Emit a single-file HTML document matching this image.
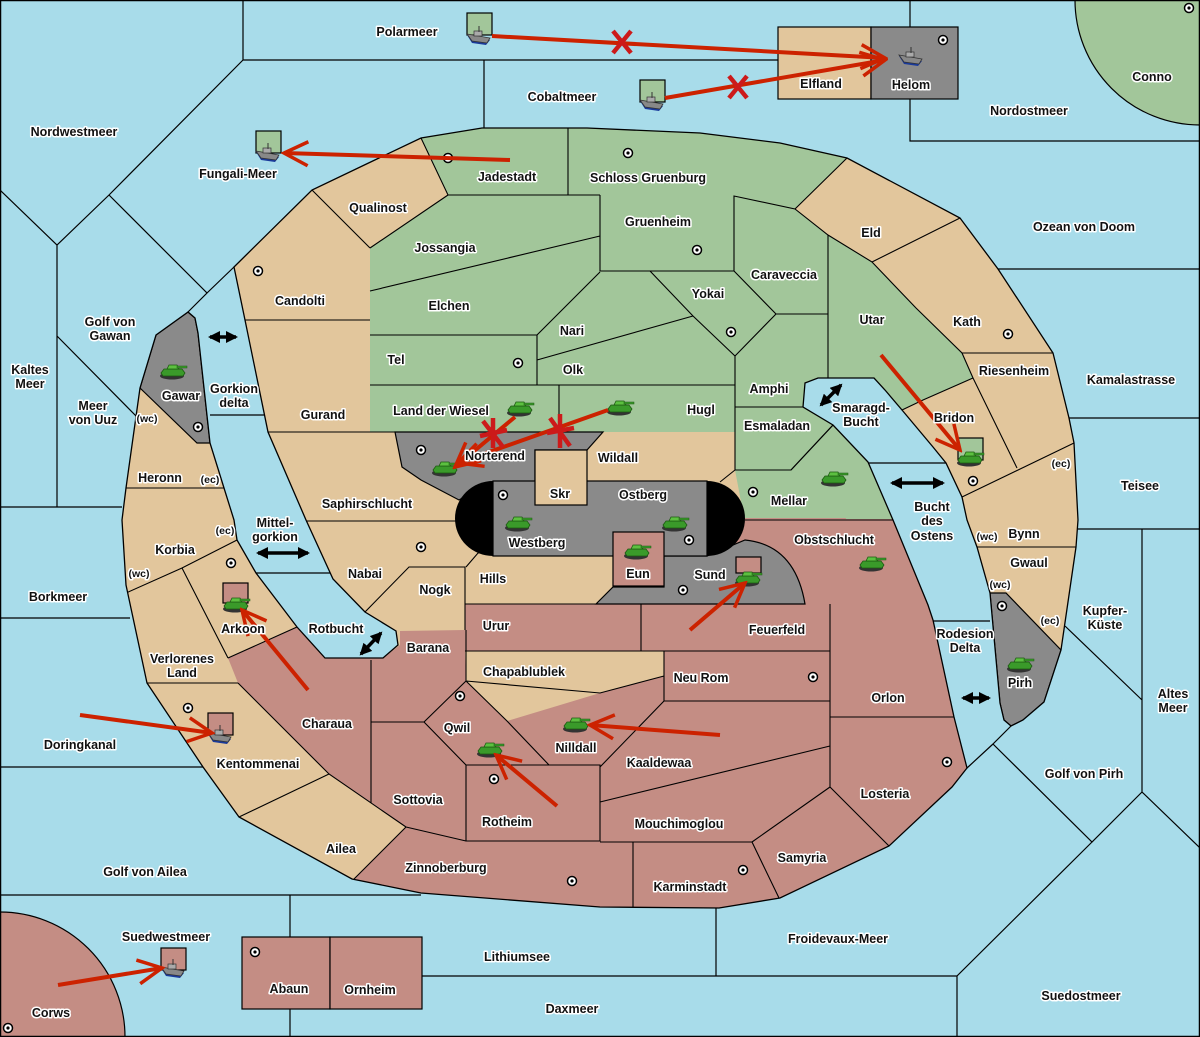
<!DOCTYPE html>
<html><head><meta charset="utf-8"><style>
html,body{margin:0;padding:0;background:#a8dcea;width:1200px;height:1037px;overflow:hidden;position:relative}
svg{display:block;position:absolute;left:0;top:0}
text{font-family:"Liberation Sans",sans-serif;font-weight:bold;font-size:12.5px;fill:#111;stroke:#fff;stroke-width:3px;paint-order:stroke;stroke-linejoin:round;text-anchor:middle;dominant-baseline:central}
text.s{font-size:10.5px}
</style></head><body>
<svg width="1200" height="1037" viewBox="0 0 1200 1037" xmlns="http://www.w3.org/2000/svg" overflow="hidden">
<defs>
<clipPath id="land"><polygon id="lp" points="188,312 156,335 140,388 126,488 122,520 126,585 147,683 203,767 239,817 352,879 421,893 600,907 719,908 780,898 889,846 952,787 967,768 954,717 933,620 928,605 893,520 868,462 833,425 803,407 805,383 818,378 874,378 885,390 902,410 933,447 946,463 962,497 967,520 977,547 990,593 1000,703 1004,720 1011,726 1023,720 1044,702 1061,650 1076,547 1078,520 1074,443 1069,418 1053,353 998,269 960,218 847,158 780,143 700,133 587,128 482,128 421,138 379,158 312,190 234,267 245,320 268,432 306,520 333,579 365,612 396,631 398,645 383,658 325,658 297,627 256,573 237,540 234,520 224,488 210,443 198,333 195,318"/></clipPath>
<symbol id="tk" viewBox="0 0 30 18">
<ellipse cx="14" cy="14" rx="12" ry="3.5" fill="#333"/>
<path d="M3,11 L6,7 L24,7 L27,11 L25,14 L5,14 Z" fill="#3a9a2a" stroke="#1d5a12" stroke-width="0.8"/>
<path d="M9,7 L11,3 L19,3 L21,7 Z" fill="#5cc040" stroke="#1d5a12" stroke-width="0.8"/>
<rect x="19" y="4" width="10" height="2" fill="#3a9a2a" stroke="#1d5a12" stroke-width="0.5"/>
</symbol>
<symbol id="sh" viewBox="0 0 26 20">
<path d="M1,9 L24,14 L20,19 L6,17 Z" fill="#1a3a9a"/>
<path d="M1,8 L24,12 L21,17 L6,15 Z" fill="#888" stroke="#333" stroke-width="0.8"/>
<rect x="8" y="5" width="8" height="5" fill="#aaa" stroke="#333" stroke-width="0.7"/>
<line x1="13" y1="0" x2="13" y2="6" stroke="#333" stroke-width="1"/>
</symbol>
<marker id="ah" markerUnits="userSpaceOnUse" markerWidth="30" markerHeight="30" viewBox="0 0 30 30" refX="27" refY="15" orient="auto"><path d="M3,3 L27,15 L3,27" fill="none" stroke="#cc2200" stroke-width="3.5"/></marker>
<marker id="bh" markerUnits="userSpaceOnUse" markerWidth="12" markerHeight="12" viewBox="0 0 12 12" refX="10" refY="6" orient="auto-start-reverse"><path d="M0,0 L12,6 L0,12 Z" fill="#000"/></marker>
</defs>
<rect width="1200" height="1037" fill="#a8dcea"/>
<g fill="none" stroke="#000" stroke-width="1.2">
<path d="M243,0 V60 H778 M243,60 L109,195 L57,245 L0,190 M109,195 L207,293 L188,312 M207,293 L234,267 M57,245 V507 M57,336 L140,420 M0,507 H122 M210,415 H266 M484,60 V128 M910,0 V27 M910,99 V141 H1200 M998,269 H1200 M1069,418 H1200 M1078,529 H1200 M1142,529 V792 L1200,848 M1142,792 L1092,842 L993,744 L1011,726 M993,744 L967,768 M1065,626 L1142,700 M1092,842 L957,976 V1037 M421,976 H957 M716,908 V976 M0,618 H130 M0,767 H203 M0,895 H421 M290,895 V1037 M933,621 H990 M866,463 H946 M256,573 H331"/>
</g>
<circle cx="1200" cy="0" r="125" fill="#a2c69a" stroke="#000" stroke-width="1.2"/>
<circle cx="0" cy="1037" r="125" fill="#c48d84" stroke="#000" stroke-width="1.2"/>
<rect x="778" y="27" width="93" height="72" fill="#e2c69c" stroke="#000" stroke-width="1.2"/>
<rect x="871" y="27" width="87" height="72" fill="#8a8a8a" stroke="#000" stroke-width="1.2"/>
<rect x="242" y="937" width="88" height="72" fill="#c48d84" stroke="#000" stroke-width="1.2"/>
<rect x="330" y="937" width="92" height="72" fill="#c48d84" stroke="#000" stroke-width="1.2"/>
<use href="#lp" fill="#e2c69c"/>
<g clip-path="url(#land)">
<polygon fill="#a2c69a" points="420,110 850,110 847,158 795,209 828,235 872,262 916,308 962,353 973,378 923,400 902,410 870,400 832,424 870,460 898,522 745,522 735,470 735,432 370,432 370,248 448,195 421,138"/>
<polygon fill="#a2c69a" points="735,468 791,468 833,423 870,460 898,524 745,524"/>
<polygon fill="#e2c69c" points="603,432 735,432 735,470 720,482 587,482 587,450"/>
<polygon fill="#c48d84" points="720,518 905,518 1000,800 900,920 340,920 354,879 406,827 329,774 238,683 228,658 297,627 325,658 383,658 400,645 400,631 465,630 465,604 720,604"/>
<polygon fill="#e2c69c" points="465,651 664,651 664,676 600,693 507,721 466,681"/>
<polygon fill="#8a8a8a" stroke="#000" stroke-width="1.2" points="395,432 603,432 587,450 535,450 535,482 490,482 459,500 421,480 402,467"/>
<path d="M596,604 L613,587 L664,587 L664,556 L707,556 L745,540 Q795,545 805,604 Z" fill="#8a8a8a" stroke="#000" stroke-width="1.2"/>
<path d="M493,481 H707 A38,37.5 0 0 1 707,556 H493 A38,37.5 0 0 1 493,481 Z" fill="#000"/>
<rect x="493" y="481" width="214" height="75" fill="#8a8a8a" stroke="#000" stroke-width="1.2"/>
<rect x="535" y="450" width="52" height="55" fill="#e2c69c" stroke="#000" stroke-width="1.2"/>
<rect x="613" y="532" width="51" height="54" fill="#c48d84" stroke="#000" stroke-width="1.2"/>
<polygon fill="#8a8a8a" stroke="#000" stroke-width="1.2" points="188,312 195,318 198,333 210,443 197,443 140,388 156,335"/>
<polygon fill="#8a8a8a" stroke="#000" stroke-width="1.2" points="990,593 1006,593 1061,650 1044,702 1023,720 1011,726 1004,720 1000,703"/>
<g fill="none" stroke="#000" stroke-width="1.1">
<path d="M421,138 L448,195 H600 M568,128 V195 M600,195 V271 H734 V196 L795,209 L828,235 L872,262 L960,218 M795,209 L847,158 M370,248 L448,195 M370,291 L600,236 M370,335 H537 V385 M537,335 L600,272 M537,360 L693,316 M650,271 L693,316 L735,356 L776,314 L734,271 M776,314 H828 M828,235 V378 M370,385 H735 M559,385 V432 M735,356 V470 M735,407 H803 M735,470 H791 L833,425 M735,470 L720,482 M872,262 L916,308 L962,353 L973,378 L923,400 L902,410 M962,353 H1053 M973,378 L1017,468 M962,497 L1074,443 M977,547 H1076 M990,593 H1006 M745,520 H895"/>
<path d="M312,190 L370,248 M245,320 H370 M268,432 H395 M306,521 H456 M365,612 L409,567 H465 V630 M466,567 L478,553 L490,553 M465,604 H805 M465,651 H830 M641,604 V651 M664,651 V701 H830 M830,604 V787 M830,717 H954 M830,787 L889,846 M752,842 L830,787 M752,842 L779,898 M600,842 H752 M633,842 V908 M600,802 L830,746 M664,701 L600,767 M466,765 H600 V841 H466 Z M424,722 L466,681 L507,721 L549,765 M424,722 L466,765 M371,660 V803 M371,722 H424 M406,827 L466,841 M406,827 L354,879 M329,774 L239,817 M238,683 L147,683 M126,593 L182,568 L239,539 M182,568 L228,658 M228,658 L297,627 M126,488 H224 M238,683 L329,774 L406,827 M466,681 L600,693 L664,676 M466,630 V681"/>
</g>
</g>
<polygon fill="#a2c69a" points="834,426 867,462 892,519 846,519 836,480"/>
<use href="#lp" fill="none" stroke="#000" stroke-width="1.3"/>
<line x1="791" y1="470" x2="833" y2="425" stroke="#000" stroke-width="1.1"/>
<line x1="745" y1="520" x2="893" y2="520" stroke="#000" stroke-width="1.1"/>
<g stroke="#000" stroke-width="1.2">
<rect x="467" y="13" width="25" height="22" fill="#a2c69a"/>
<rect x="640" y="80" width="25" height="22" fill="#a2c69a"/>
<rect x="256" y="131" width="25" height="22" fill="#a2c69a"/>
<rect x="958" y="438" width="25" height="22" fill="#a2c69a"/>
<rect x="223" y="583" width="25" height="20" fill="#c48d84"/>
<rect x="736" y="557" width="25" height="16" fill="#c48d84"/>
<rect x="208" y="713" width="25" height="22" fill="#c48d84"/>
<rect x="161" y="948" width="25" height="22" fill="#c48d84"/>
</g>
<g fill="#fff" stroke="#000" stroke-width="1.5">
<circle cx="448" cy="158" r="4.5"/><circle cx="628" cy="153" r="4.5"/><circle cx="697" cy="250" r="4.5"/><circle cx="731" cy="332" r="4.5"/><circle cx="518" cy="363" r="4.5"/><circle cx="258" cy="271" r="4.5"/><circle cx="198" cy="427" r="4.5"/><circle cx="231" cy="563" r="4.5"/><circle cx="421" cy="450" r="4.5"/><circle cx="503" cy="495" r="4.5"/><circle cx="753" cy="492" r="4.5"/><circle cx="689" cy="540" r="4.5"/><circle cx="973" cy="481" r="4.5"/><circle cx="1008" cy="334" r="4.5"/><circle cx="1002" cy="606" r="4.5"/><circle cx="947" cy="762" r="4.5"/><circle cx="813" cy="677" r="4.5"/><circle cx="683" cy="590" r="4.5"/><circle cx="460" cy="696" r="4.5"/><circle cx="494" cy="779" r="4.5"/><circle cx="572" cy="881" r="4.5"/><circle cx="743" cy="870" r="4.5"/><circle cx="188" cy="708" r="4.5"/><circle cx="255" cy="952" r="4.5"/><circle cx="8" cy="1028" r="4.5"/><circle cx="943" cy="40" r="4.5"/><circle cx="421" cy="547" r="4.5"/><circle cx="1189" cy="8" r="4.5"/>
</g>
<g fill="#000">
<circle cx="448" cy="158" r="1.6"/><circle cx="628" cy="153" r="1.6"/><circle cx="697" cy="250" r="1.6"/><circle cx="731" cy="332" r="1.6"/><circle cx="518" cy="363" r="1.6"/><circle cx="258" cy="271" r="1.6"/><circle cx="198" cy="427" r="1.6"/><circle cx="231" cy="563" r="1.6"/><circle cx="421" cy="450" r="1.6"/><circle cx="503" cy="495" r="1.6"/><circle cx="753" cy="492" r="1.6"/><circle cx="689" cy="540" r="1.6"/><circle cx="973" cy="481" r="1.6"/><circle cx="1008" cy="334" r="1.6"/><circle cx="1002" cy="606" r="1.6"/><circle cx="947" cy="762" r="1.6"/><circle cx="813" cy="677" r="1.6"/><circle cx="683" cy="590" r="1.6"/><circle cx="460" cy="696" r="1.6"/><circle cx="494" cy="779" r="1.6"/><circle cx="572" cy="881" r="1.6"/><circle cx="743" cy="870" r="1.6"/><circle cx="188" cy="708" r="1.6"/><circle cx="255" cy="952" r="1.6"/><circle cx="8" cy="1028" r="1.6"/><circle cx="943" cy="40" r="1.6"/><circle cx="421" cy="547" r="1.6"/><circle cx="1189" cy="8" r="1.6"/>
</g>
<g stroke="#000" stroke-width="3.5" marker-start="url(#bh)" marker-end="url(#bh)">
<line x1="210" y1="337" x2="236" y2="337"/><line x1="258" y1="553" x2="308" y2="553"/><line x1="892" y1="483" x2="943" y2="483"/><line x1="963" y1="698" x2="989" y2="698"/><line x1="361" y1="654" x2="381" y2="633"/><line x1="821" y1="405" x2="841" y2="385"/>
</g>
<g>
<use href="#tk" x="158" y="362" width="30" height="18"/>
<use href="#tk" x="505" y="399" width="30" height="18"/>
<use href="#tk" x="605" y="398" width="30" height="18"/>
<use href="#tk" x="430" y="459" width="30" height="18"/>
<use href="#tk" x="503" y="514" width="30" height="18"/>
<use href="#tk" x="660" y="514" width="30" height="18"/>
<use href="#tk" x="622" y="542" width="30" height="18"/>
<use href="#tk" x="733" y="569" width="30" height="18"/>
<use href="#tk" x="819" y="469" width="30" height="18"/>
<use href="#tk" x="857" y="554" width="30" height="18"/>
<use href="#tk" x="955" y="449" width="30" height="18"/>
<use href="#tk" x="1005" y="655" width="30" height="18"/>
<use href="#tk" x="221" y="595" width="30" height="18"/>
<use href="#tk" x="561" y="715" width="30" height="18"/>
<use href="#tk" x="475" y="740" width="30" height="18"/>
<use href="#sh" x="466" y="26" width="26" height="20"/>
<use href="#sh" x="639" y="92" width="26" height="20"/>
<use href="#sh" x="255" y="143" width="26" height="20"/>
<use href="#sh" x="898" y="47" width="26" height="20"/>
<use href="#sh" x="207" y="725" width="26" height="20"/>
<use href="#sh" x="160" y="959" width="26" height="20"/>
</g>
<g stroke="#cc2200" stroke-width="4" fill="none" marker-end="url(#ah)">
<line x1="492" y1="36" x2="885" y2="58"/>
<line x1="665" y1="98" x2="885" y2="60"/>
<line x1="510" y1="160" x2="284" y2="153"/>
<line x1="881" y1="355" x2="960" y2="450"/>
<line x1="690" y1="630" x2="745" y2="583"/>
<line x1="308" y1="690" x2="242" y2="610"/>
<line x1="80" y1="715" x2="212" y2="733"/>
<line x1="58" y1="985" x2="162" y2="968"/>
<line x1="720" y1="735" x2="590" y2="725"/>
<line x1="557" y1="806" x2="496" y2="755"/>
<line x1="515" y1="417" x2="455" y2="467"/>
<line x1="608" y1="410" x2="458" y2="463"/>
</g>
<g stroke="#cc1a1a" stroke-width="4.5">
<path d="M613,31 L631,53 M631,31 L613,53"/>
<path d="M729,76 L747,98 M747,76 L729,98"/>
<path d="M483,421 L503,447 M493,418 L493,448 M480,436 L507,430"/>
<path d="M550,418 L570,446 M560,414 L560,448 M547,433 L574,428"/>
</g>
<g>
<text x="407" y="32">Polarmeer</text>
<text x="562" y="97">Cobaltmeer</text>
<text x="821" y="84">Elfland</text>
<text x="911" y="85">Helom</text>
<text x="1152" y="77">Conno</text>
<text x="1029" y="111">Nordostmeer</text>
<text x="74" y="132">Nordwestmeer</text>
<text x="238" y="174">Fungali-Meer</text>
<text x="507" y="177">Jadestadt</text>
<text x="648" y="178">Schloss Gruenburg</text>
<text x="378" y="208">Qualinost</text>
<text x="871" y="233">Eld</text>
<text x="1084" y="227">Ozean von Doom</text>
<text x="658" y="222">Gruenheim</text>
<text x="445" y="248">Jossangia</text>
<text x="784" y="275">Caraveccia</text>
<text x="300" y="301">Candolti</text>
<text x="708" y="294">Yokai</text>
<text x="449" y="306">Elchen</text>
<text x="872" y="320">Utar</text>
<text x="967" y="322">Kath</text>
<text x="110" y="322">Golf von</text><text x="110" y="336">Gawan</text>
<text x="572" y="331">Nari</text>
<text x="396" y="360">Tel</text>
<text x="573" y="370">Olk</text>
<text x="1014" y="371">Riesenheim</text>
<text x="1131" y="380">Kamalastrasse</text>
<text x="30" y="370">Kaltes</text><text x="30" y="384">Meer</text>
<text x="769" y="389">Amphi</text>
<text x="181" y="396">Gawar</text>
<text x="234" y="389">Gorkion</text><text x="234" y="403">delta</text>
<text x="93" y="406">Meer</text><text x="93" y="420">von Uuz</text>
<text class="s" x="147" y="419">(wc)</text>
<text x="441" y="411">Land der Wiesel</text>
<text x="701" y="410">Hugl</text>
<text x="861" y="408">Smaragd-</text><text x="861" y="422">Bucht</text>
<text x="954" y="418">Bridon</text>
<text x="323" y="415">Gurand</text>
<text x="777" y="426">Esmaladan</text>
<text x="495" y="456">Norterend</text>
<text x="618" y="458">Wildall</text>
<text x="160" y="478">Heronn</text>
<text class="s" x="210" y="480">(ec)</text>
<text class="s" x="1061" y="464">(ec)</text>
<text x="1140" y="486">Teisee</text>
<text x="560" y="494">Skr</text>
<text x="643" y="495">Ostberg</text>
<text x="789" y="501">Mellar</text>
<text x="367" y="504">Saphirschlucht</text>
<text x="932" y="507">Bucht</text><text x="932" y="521">des</text><text x="932" y="536">Ostens</text>
<text class="s" x="987" y="537">(wc)</text>
<text x="1024" y="534">Bynn</text>
<text x="275" y="523">Mittel-</text><text x="275" y="537">gorkion</text>
<text class="s" x="225" y="531">(ec)</text>
<text x="834" y="540">Obstschlucht</text>
<text x="537" y="543">Westberg</text>
<text x="175" y="550">Korbia</text>
<text class="s" x="139" y="574">(wc)</text>
<text x="1029" y="563">Gwaul</text>
<text x="365" y="574">Nabai</text>
<text x="638" y="574">Eun</text>
<text x="710" y="575">Sund</text>
<text x="493" y="579">Hills</text>
<text x="435" y="590">Nogk</text>
<text class="s" x="1000" y="585">(wc)</text>
<text x="58" y="597">Borkmeer</text>
<text x="1105" y="611">Kupfer-</text><text x="1105" y="625">Küste</text>
<text class="s" x="1050" y="621">(ec)</text>
<text x="496" y="626">Urur</text>
<text x="777" y="630">Feuerfeld</text>
<text x="243" y="629">Arkoon</text>
<text x="336" y="629">Rotbucht</text>
<text x="965" y="634">Rodesion</text><text x="965" y="648">Delta</text>
<text x="428" y="648">Barana</text>
<text x="182" y="659">Verlorenes</text><text x="182" y="673">Land</text>
<text x="524" y="672">Chapablublek</text>
<text x="701" y="678">Neu Rom</text>
<text x="1020" y="683">Pirh</text>
<text x="1173" y="694">Altes</text><text x="1173" y="708">Meer</text>
<text x="888" y="698">Orlon</text>
<text x="327" y="724">Charaua</text>
<text x="457" y="728">Qwil</text>
<text x="80" y="745">Doringkanal</text>
<text x="576" y="748">Nilldall</text>
<text x="659" y="763">Kaaldewaa</text>
<text x="258" y="764">Kentommenai</text>
<text x="1084" y="774">Golf von Pirh</text>
<text x="885" y="794">Losteria</text>
<text x="418" y="800">Sottovia</text>
<text x="507" y="822">Rotheim</text>
<text x="679" y="824">Mouchimoglou</text>
<text x="341" y="849">Ailea</text>
<text x="802" y="858">Samyria</text>
<text x="446" y="868">Zinnoberburg</text>
<text x="145" y="872">Golf von Ailea</text>
<text x="690" y="887">Karminstadt</text>
<text x="166" y="937">Suedwestmeer</text>
<text x="838" y="939">Froidevaux-Meer</text>
<text x="517" y="957">Lithiumsee</text>
<text x="289" y="989">Abaun</text>
<text x="370" y="990">Ornheim</text>
<text x="1081" y="996">Suedostmeer</text>
<text x="572" y="1009">Daxmeer</text>
<text x="51" y="1013">Corws</text>
</g>
<rect x="0.5" y="0.5" width="1199" height="1036" fill="none" stroke="#000" stroke-width="1.5"/>
</svg>
</body></html>
